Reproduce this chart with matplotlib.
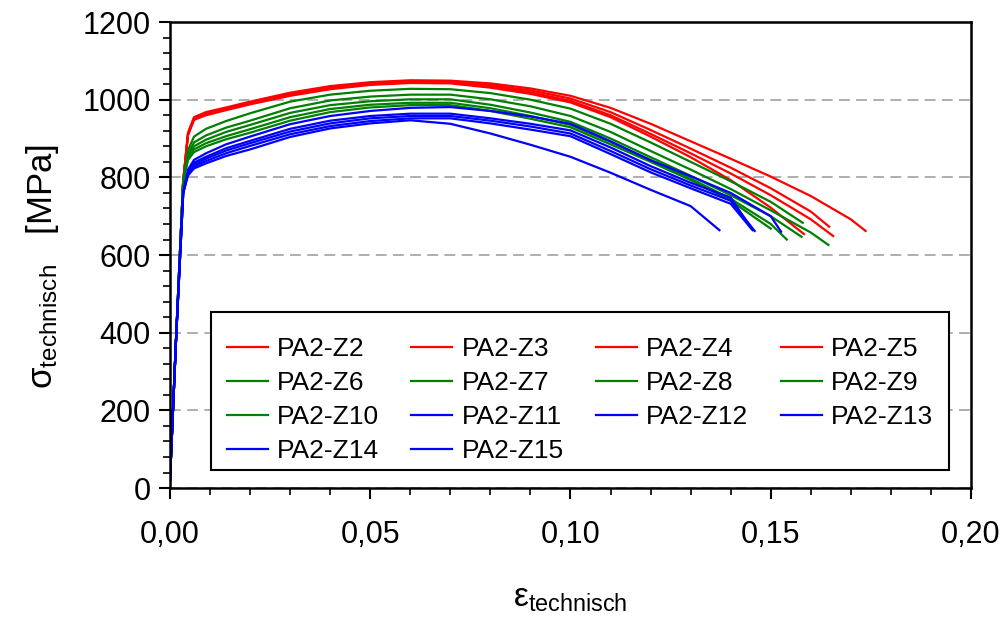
import matplotlib.pyplot as plt
from matplotlib.patches import Rectangle

plt.rcParams['font.family'] = 'Liberation Sans'
plt.rcParams['mathtext.fontset'] = 'custom'
plt.rcParams['mathtext.rm'] = 'Liberation Sans'
plt.rcParams['mathtext.it'] = 'Liberation Sans:italic'

# Dehnungsstuetzstellen (gemeinsam fuer alle Proben)
eps_grid = [0, 0.0015, 0.0033, 0.0045, 0.006, 0.009, 0.014, 0.02, 0.03, 0.04,
            0.05, 0.06, 0.07, 0.08, 0.09, 0.10, 0.11, 0.12, 0.13, 0.14,
            0.15, 0.16, 0.17]

# Spannungen [MPa] an den Stuetzstellen
sig_z2 = [20, 380, 790, 915, 955, 968, 980, 995, 1018, 1035, 1045, 1050, 1049, 1042, 1029, 1010, 979, 938, 893, 848, 802, 752, 692]
sig_z3 = [20, 380, 790, 912, 952, 965, 978, 992, 1015, 1032, 1042, 1047, 1047, 1038, 1024, 1003, 968, 922, 874, 825, 772, 712]
sig_z4 = [20, 380, 790, 910, 950, 963, 976, 990, 1012, 1029, 1040, 1045, 1045, 1035, 1019, 997, 960, 912, 862, 810, 754, 692]
sig_z5 = [20, 380, 790, 908, 948, 960, 973, 988, 1010, 1027, 1038, 1043, 1042, 1031, 1015, 993, 955, 905, 852, 793, 722]
sig_z6 = [20, 380, 790, 870, 905, 925, 945, 965, 995, 1013, 1023, 1028, 1027, 1017, 1000, 977, 938, 890, 840, 790, 737]
sig_z7 = [20, 380, 790, 860, 890, 908, 928, 946, 978, 998, 1008, 1013, 1013, 1001, 983, 958, 917, 868, 820, 770, 715, 658]
sig_z8 = [20, 380, 790, 855, 880, 897, 917, 935, 966, 986, 996, 1001, 1001, 987, 967, 943, 900, 852, 804, 754, 700]
sig_z9 = [20, 380, 790, 850, 872, 888, 906, 924, 955, 976, 987, 992, 992, 978, 958, 935, 891, 845, 797, 745, 680]
sig_z10 = [20, 380, 790, 845, 865, 880, 898, 915, 946, 968, 980, 986, 986, 971, 951, 929, 885, 840, 793, 740]
sig_z11 = [20, 380, 760, 820, 845, 862, 885, 905, 937, 958, 971, 979, 981, 971, 957, 938, 893, 844, 803, 760, 700]
sig_z12 = [20, 380, 760, 815, 838, 853, 875, 894, 925, 946, 958, 964, 964, 952, 938, 921, 877, 829, 786, 748]
sig_z13 = [20, 380, 760, 812, 833, 848, 869, 888, 918, 939, 952, 958, 958, 946, 931, 913, 868, 821, 779, 740]
sig_z14 = [20, 380, 760, 808, 828, 842, 862, 881, 911, 932, 945, 952, 952, 939, 923, 906, 860, 813, 772, 732]
sig_z15 = [20, 380, 760, 805, 823, 836, 855, 872, 904, 926, 939, 947, 938, 913, 884, 853, 812, 768, 726]

# Bruchpunkte (Dehnung, Spannung)
bruch_eps = [0.1737, 0.1646, 0.1656, 0.1583, 0.158, 0.1644, 0.1577, 0.154, 0.150,
             0.1526, 0.1455, 0.146, 0.1452, 0.1372]
bruch_sig = [662, 673, 649, 654, 683, 626, 647, 640, 668, 660, 664, 662, 667, 664]

proben = ['PA2-Z2', 'PA2-Z3', 'PA2-Z4', 'PA2-Z5', 'PA2-Z6', 'PA2-Z7', 'PA2-Z8',
          'PA2-Z9', 'PA2-Z10', 'PA2-Z11', 'PA2-Z12', 'PA2-Z13', 'PA2-Z14', 'PA2-Z15']
kurven = [sig_z2, sig_z3, sig_z4, sig_z5, sig_z6, sig_z7, sig_z8, sig_z9, sig_z10,
          sig_z11, sig_z12, sig_z13, sig_z14, sig_z15]
farben = ['#ff0000'] * 4 + ['#008000'] * 5 + ['#0000ff'] * 5

x_ticks = [0.0, 0.05, 0.10, 0.15, 0.20]
x_labels = ['0,00', '0,05', '0,10', '0,15', '0,20']
y_ticks = [0, 200, 400, 600, 800, 1000, 1200]

fig = plt.figure(figsize=(10.04, 6.17), dpi=100)
ax = fig.add_axes([0.1693, 0.209, 0.7978, 0.7553])

handles = []
for name, sig, e_b, s_b, c in zip(proben, kurven, bruch_eps, bruch_sig, farben):
    x = eps_grid[:len(sig)] + [e_b]
    y = sig + [s_b]
    h, = ax.plot(x, y, color=c, lw=1.6, label=name)
    handles.append(h)

ax.set_xlim(0, 0.2)
ax.set_ylim(0, 1200)
ax.set_xticks(x_ticks)
ax.set_xticklabels(x_labels)
ax.set_xticks([i * 0.01 for i in range(21)], minor=True)
ax.set_yticks(y_ticks)
ax.set_yticks(list(range(0, 1201, 40)), minor=True)
ax.tick_params(axis='both', which='major', labelsize=22, length=8, width=1.5,
               direction='out')
ax.tick_params(axis='x', which='major', pad=15)
ax.tick_params(axis='y', which='major', pad=6)
ax.tick_params(axis='both', which='minor', length=5, width=1.2, direction='out')
for s in ax.spines.values():
    s.set_linewidth(1.8)

ax.yaxis.grid(True, which='major', color='#a8a8a8', linestyle=(0, (6, 3.5)), lw=1.3)
ax.set_axisbelow(True)

ax.set_xlabel(r'$\mathrm{ε}_{\mathrm{technisch}}$', fontsize=24, labelpad=24)
ax.set_ylabel(r'$\mathrm{σ}_{\mathrm{technisch}}$   [MPa]', fontsize=25, labelpad=15)
ax.yaxis.label.set_y(0.475)

# Legendenrahmen (oben mehr Luft als unten, wie im Original)
ax.add_patch(Rectangle((0.0512, 0.0386), 0.9213, 0.339, transform=ax.transAxes,
                       facecolor='white', edgecolor='black', lw=1.5, zorder=4))

# Legende zeilenweise wie im Original (4 Spalten)
order = [0, 4, 8, 12, 1, 5, 9, 13, 2, 6, 10, 3, 7, 11]
leg = ax.legend([handles[i] for i in order], [proben[i] for i in order],
                ncol=4, loc='upper left', mode='expand',
                bbox_to_anchor=(0.0512, 0.3584, 0.9213, 0), borderaxespad=0,
                fontsize=19, handlelength=1.55, handletextpad=0.35,
                labelspacing=0.38, frameon=False, borderpad=0.6)
leg.set_zorder(5)

fig.savefig('out.png', dpi=100)
